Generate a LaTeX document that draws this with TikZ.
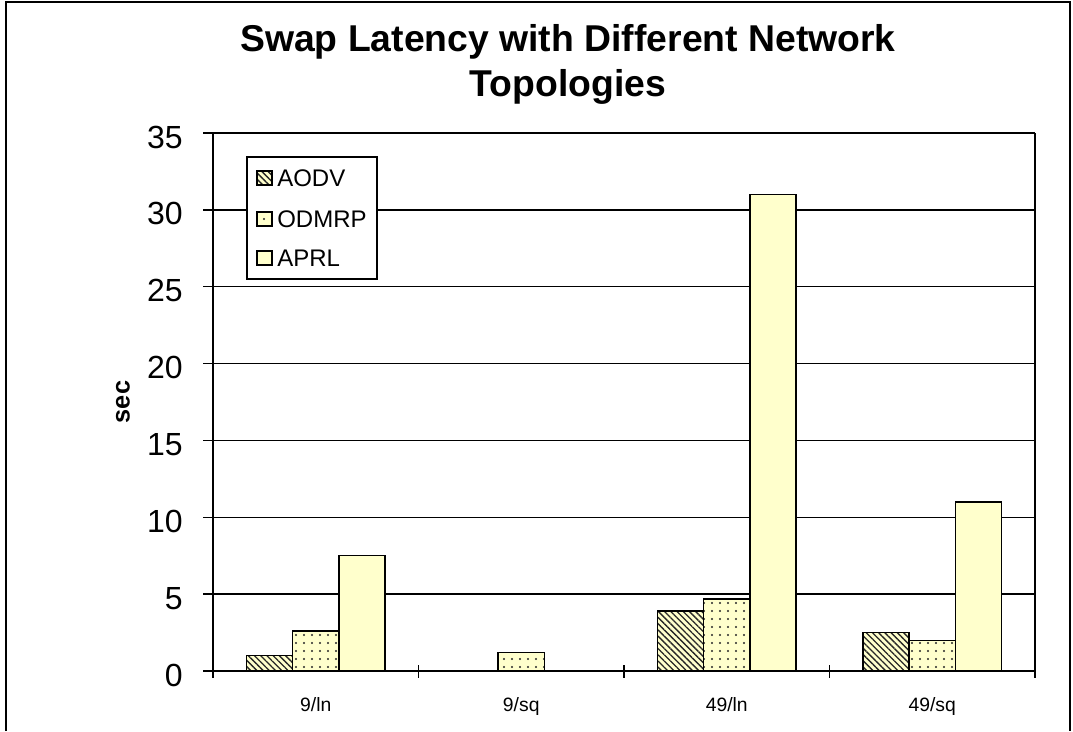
\documentclass[tikz,border=0pt]{standalone}
\usepackage{fontspec}
\setmainfont{Liberation Sans}
\usetikzlibrary{patterns.meta}
\definecolor{barfill}{HTML}{FFFFCC}
\tikzset{
  plainbar/.style={draw=black, line width=1.1pt, fill=barfill},
  hatchbar/.style={draw=black, line width=1.1pt, preaction={fill=barfill},
    pattern={Lines[angle=-45,distance=3.3pt,line width=1pt]}, pattern color=black!85},
  dotbar/.style={draw=black, line width=1.1pt, preaction={fill=barfill},
    pattern={Dots[distance=6pt,radius=0.85pt]}, pattern color=black!85},
  gridline/.style={line width=1.1pt},
  titlelab/.style={font=\fontsize{28}{33}\selectfont\bfseries, inner sep=0, anchor=base},
  ticklab/.style={font=\fontsize{24}{28}\selectfont, inner sep=0, anchor=base east},
  catlab/.style={font=\fontsize{14.5}{17}\selectfont, inner sep=0, anchor=base},
  leglab/.style={font=\fontsize{18}{21}\selectfont, inner sep=0, anchor=west}
}
\begin{document}
\begin{tikzpicture}[x=0.75pt,y=-0.75pt]
  \useasboundingbox (0,0) rectangle (1073,731);
  % outer chart frame
  \draw[line width=1.5pt] (6,731) -- (6,2) -- (1070,2) -- (1070,731);
  % title
  \node[titlelab] (title1) at (568,52) {Swap Latency with Different Network};
  \node[titlelab] (title2) at (568,97) {Topologies};
  % gridlines, y ticks and labels
  \foreach \v in {0,5,...,35} {
    \pgfmathsetmacro{\yy}{671-\v*15.37}
    \draw[gridline] (203,\yy) -- (1035,\yy);
    \node[ticklab] (ylab\v) at (183,\yy+15) {\v};
  }
  \draw[gridline] (1035,133) -- (1035,678);
  \node[font=\fontsize{19}{22}\selectfont\bfseries, rotate=90, inner sep=0] (seclabel) at (123,402) {sec};
  % bars
  \foreach \g/\b/\v/\s in {0/0/1.0/hatchbar, 0/1/2.6/dotbar, 0/2/7.5/plainbar,
                           1/1/1.2/dotbar,
                           2/0/3.9/hatchbar, 2/1/4.7/dotbar, 2/2/31.0/plainbar,
                           3/0/2.5/hatchbar, 3/1/2.0/dotbar, 3/2/11.0/plainbar}
    \draw[\s] ({213+205.5*\g+33.6+46.1*\b},671) rectangle ++(46.1,{-\v*15.37});
  % axes
  \draw[line width=1.5pt] (213,133) -- (213,678);
  \draw[line width=1.8pt] (213,671) -- (1035,671);
  \foreach \i in {0,...,4}
    \draw[line width=1.1pt] ({213+205.5*\i},665) -- ({213+205.5*\i},678);
  % category labels
  \foreach \lab [count=\i from 0] in {9/ln, 9/sq, 49/ln, 49/sq}
    \node[catlab] (cat\i) at ({213+205.5*\i+102.75},711) {\lab};
  % legend
  \draw[line width=1.1pt, fill=white] (247,157) rectangle (377,279);
  \draw[hatchbar, line width=0.8pt] (257,171) rectangle (272,185);
  \draw[dotbar, line width=0.8pt] (257,212) rectangle (272,226);
  \draw[plainbar, line width=0.8pt] (257,251) rectangle (272,265);
  \node[leglab] (leg-aodv) at (277,178) {AODV};
  \node[leglab] (leg-odmrp) at (277,219) {ODMRP};
  \node[leglab] (leg-aprl) at (277,258) {APRL};
\end{tikzpicture}
\end{document}
